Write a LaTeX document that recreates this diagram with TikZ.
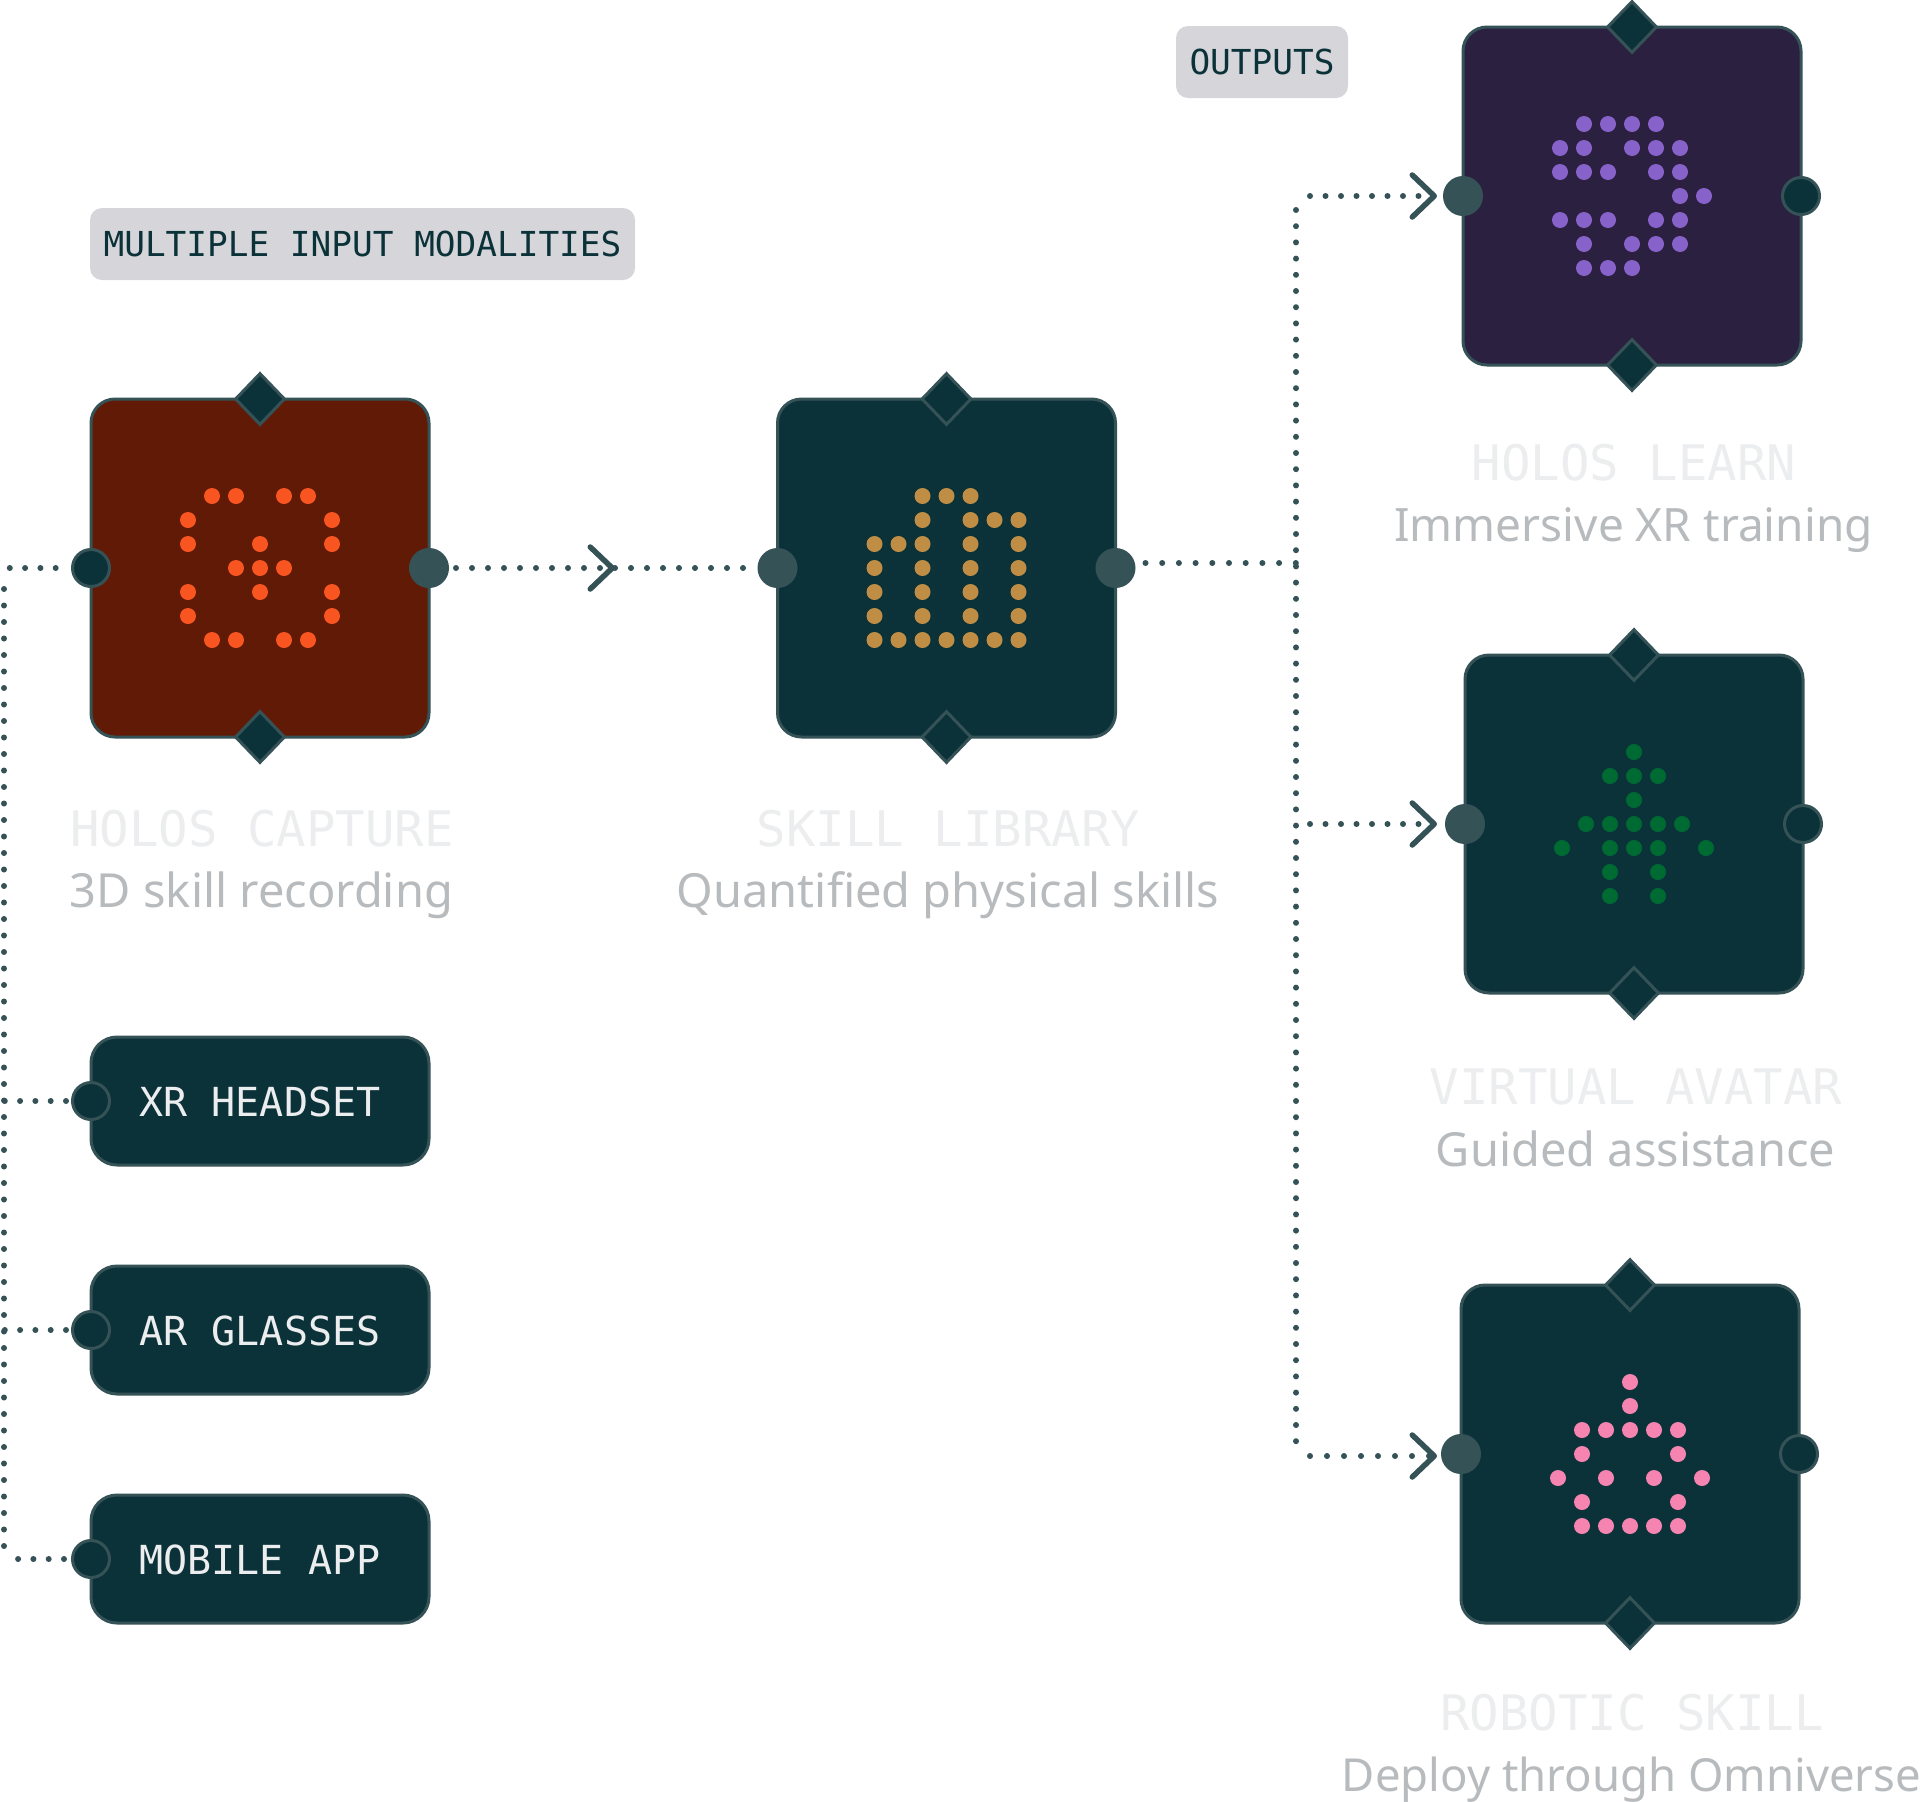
\documentclass[tikz,border=0pt]{standalone}
\usepackage{fontspec}
\setmonofont{DejaVu Sans Mono}
\setmainfont{Noto Sans}
\usetikzlibrary{positioning,arrows.meta,shapes.geometric}

\definecolor{deep}{HTML}{0B3239}
\definecolor{edge}{HTML}{355257}
\definecolor{rust}{HTML}{611A05}
\definecolor{plum}{HTML}{2B2040}
\definecolor{tagfill}{HTML}{D6D6DA}
\definecolor{heading}{HTML}{ECEDEE}
\definecolor{subhead}{HTML}{B8BBBD}
\definecolor{orangedot}{HTML}{F95520}
\definecolor{golddot}{HTML}{BF8E44}
\definecolor{violetdot}{HTML}{8762CA}
\definecolor{greendot}{HTML}{006A33}
\definecolor{pinkdot}{HTML}{F584B0}

\tikzset{
  card/.style={draw=edge, fill=deep, line width=3pt, rounded corners=24pt, minimum width=338pt, minimum height=338pt, inner sep=0pt, outer sep=0pt},
  slot/.style={draw=edge, fill=deep, line width=3pt, rounded corners=26pt, minimum width=338pt, minimum height=128pt, inner sep=0pt, outer sep=0pt, text=heading, text height=30pt, text depth=0pt, font=\ttfamily\fontsize{40}{48}\selectfont},
  knob/.style={diamond, aspect=1, draw=edge, fill=deep, line width=3pt, minimum width=50pt, minimum height=52pt, inner sep=0pt},
  porton/.style={circle, fill=edge, minimum size=40pt, inner sep=0pt, outer sep=0pt},
  portoff/.style={circle, draw=edge, fill=deep, line width=3pt, minimum size=37pt, inner sep=0pt, outer sep=1.5pt},
  tagbox/.style={fill=tagfill, rounded corners=12pt, inner sep=0pt, text=deep, text height=25pt, text depth=0pt, font=\ttfamily\fontsize{34.4}{40}\selectfont},
  title/.style={inner sep=0pt, xshift=2pt, text=heading, text height=36pt, text depth=0pt, font=\ttfamily\fontsize{49}{56}\selectfont},
  blurb/.style={inner sep=0pt, below=28pt of #1, xshift=-0.5pt, text=subhead, text height=33pt, text depth=0pt, font=\fontsize{47}{54}\selectfont},
  link/.style={draw=edge, line width=6pt, line cap=round, dash pattern=on 0pt off #1},
  link/.default=16pt,
  chev/.style={-{Straight Barb[length=22pt,width=42pt,line width=5.5pt,round]}}
}

% dot icons, one row per entry
\newcommand{\dotmatrix}[3]{
  \foreach \r/\cols in {#3}{
    \foreach \c in \cols {\fill[#2] (#1) ++(\c*24,\r*24) circle [radius=8];}
  }
}

\begin{document}
\begin{tikzpicture}[x=1pt,y=-1pt]
\useasboundingbox (0,0) rectangle (1920,1802);

% cards
\node [card, fill=rust] (capture) at (260,568) {};
\node [card] (library) at (946.5,568) {};
\node [card, fill=plum] (learn) at (1632,196) {};
\node [card] (avatar) at (1634,824) {};
\node [card] (robot) at (1630,1454) {};

% input slots
\node [slot] (xr) at (260,1101) {XR HEADSET};
\node [slot] (ar) at (260,1330) {AR GLASSES};
\node [slot] (mobile) at (260,1559) {MOBILE APP};

% tags
\node [tagbox, minimum width=545pt, minimum height=72pt] (inputtag) at (362.5,244) {MULTIPLE INPUT MODALITIES};
\node [tagbox, minimum width=172pt, minimum height=72pt] (outputtag) at (1262,62) {OUTPUTS};

% icons
\dotmatrix{capture}{orangedot}{-3/{-2,-1,1,2},-2/{-3,3},-1/{-3,0,3},0/{-1,0,1},1/{-3,0,3},2/{-3,3},3/{-2,-1,1,2}}
\dotmatrix{library}{golddot}{-3/{-1,0,1},-2/{-1,1,2,3},-1/{-3,-2,-1,1,3},0/{-3,-1,1,3},1/{-3,-1,1,3},2/{-3,-1,1,3},3/{-3,-2,-1,0,1,2,3}}
\dotmatrix{learn}{violetdot}{-3/{-2,-1,0,1},-2/{-3,-2,0,1,2},-1/{-3,-2,-1,1,2},0/{2,3},1/{-3,-2,-1,1,2},2/{-2,0,1,2},3/{-2,-1,0}}
\dotmatrix{avatar}{greendot}{-3/{0},-2/{-1,0,1},-1/{0},0/{-2,-1,0,1,2},1/{-3,-1,0,1,3},2/{-1,1},3/{-1,1}}
\dotmatrix{robot}{pinkdot}{-3/{0},-2/{0},-1/{-2,-1,0,1,2},0/{-2,2},1/{-3,-1,1,3},2/{-2,2},3/{-2,-1,0,1,2}}

% knobs
\foreach \n in {capture,library,learn,avatar,robot}{
  \node [knob] (\n top) at (\n.north) {};
  \node [knob] (\n bot) at (\n.south) {};
}

% ports
\node [portoff] (capin) at (capture.west) {};
\node [porton] (capout) at (capture.east) {};
\node [porton] (libin) at (library.west) {};
\node [porton] (libout) at (library.east) {};
\node [porton] (learnin) at (learn.west) {};
\node [portoff] (learnout) at (learn.east) {};
\node [porton] (avin) at (avatar.west) {};
\node [portoff] (avout) at (avatar.east) {};
\node [porton] (robin) at (robot.west) {};
\node [portoff] (robout) at (robot.east) {};
\node [portoff] (xrport) at (xr.west) {};
\node [portoff] (arport) at (ar.west) {};
\node [portoff] (mobport) at (mobile.west) {};

% captions
\node [title, below=73pt of capture] (captitle) {HOLOS CAPTURE};
\node [blurb=captitle] (capblurb) {3D skill recording};
\node [title, below=73pt of library] (libtitle) {SKILL LIBRARY};
\node [blurb=libtitle] (libblurb) {Quantified physical skills};
\node [title, below=79pt of learn] (learntitle) {HOLOS LEARN};
\node [blurb=learntitle, font=\fontsize{46}{54}\selectfont] (learnblurb) {Immersive XR training};
\node [title, below=75.5pt of avatar] (avtitle) {VIRTUAL AVATAR};
\node [blurb=avtitle] (avblurb) {Guided assistance};
\node [title, below=71.5pt of robot] (robtitle) {ROBOTIC SKILL};
\node [blurb=robtitle, yshift=1pt, font=\fontsize{45.5}{54}\selectfont] (robblurb) {Deploy through Omniverse};

% bends
\coordinate (m1) at (615,568);
\coordinate (junc) at (1296,563);
\coordinate (learnbend) at (1296,196);
\coordinate (avbend) at (1296,824);
\coordinate (robbend) at (1296,1456);
\coordinate (bustop) at (4,568);
\coordinate (busbot) at (4,1546);

% arrows
\draw [link, chev, shorten <=7pt] (capout.east) -- (m1);
\draw [link] (m1) -- (libin.west);
\draw [link=16.7pt, shorten <=10pt] (libout.east |- junc) -- (junc);
\draw [link=16.2pt, shorten <=14pt, shorten >=14pt] (learnbend) -- (robbend);
\draw [link=15.5pt, chev, shorten <=14pt, shorten >=6pt] (learnbend) -- (learnin.west);
\draw [link=15.5pt, chev, shorten <=14pt, shorten >=8pt] (avbend) -- (avin.west);
\draw [link=17pt, chev, shorten <=14pt, shorten >=4pt] (robbend) -- (robbend -| robin.west);

% input bus
\draw [link=16.5pt, shorten >=5pt] (busbot) -- (bustop);
\draw [link=15.3pt, shorten <=15.3pt] (capin.west) -- (bustop);
\draw [link=15.3pt, shorten <=5pt] (xrport.west) -- (xrport.west -| bustop);
\draw [link=15.3pt, shorten <=5pt] (arport.west) -- (arport.west -| bustop);
\draw [link=15.3pt, shorten <=7pt, shorten >=10pt] (mobport.west) -- (mobport.west -| bustop);

\end{tikzpicture}
\end{document}
